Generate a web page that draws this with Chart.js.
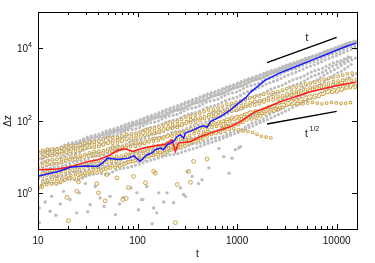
<!DOCTYPE html>
<html>
<head>
<meta charset="utf-8">
<script src="https://cdn.jsdelivr.net/npm/chart.js@4"></script>
<style>
  html, body { margin: 0; padding: 0; background: #fff; }
</style>
</head>
<body>
<canvas id="chart" width="375" height="263"></canvas>
<script>
// sample times (two staggered log grids)
const timesA = [10, 12.6, 15.8, 20, 25.1, 31.6, 39.8, 50.1, 63.1, 79.4, 100, 126, 158, 200, 251, 316, 398, 501, 631, 794, 1000, 1259, 1585, 1995, 2512, 3162, 3981, 5012, 6310, 7943, 10000, 12589, 15849];
const timesB = [11.2, 14.1, 17.8, 22.4, 28.2, 35.5, 44.7, 56.2, 70.8, 89.1, 112, 141, 178, 224, 282, 355, 447, 562, 708, 891, 1122, 1413, 1778, 2239, 2818, 3548, 4467, 5623, 7079, 8913, 11220, 14125];

// gray runs (filled dots)
const gray1 = [13, 15.5, 17, 23, 26, 35, 41, 53, 63, 82, 98, 128, 157, 208, 255, 335, 415, 540, 660, 860, 1060, 1390, 1700, 2180, 2660, 3450, 4200, 5350, 6600, 8500, 10500, 13400, 16600];
const gray2 = [9, 12, 13, 18, 20, 28, 32, 44, 51, 70, 81, 110, 130, 176, 208, 285, 340, 460, 555, 750, 920, 1240, 1520, 2030, 2500, 3300, 4100, 5300, 6500, 8400, 10300, 13100];
const gray3 = [6, 8, 8.6, 11.8, 12.8, 17.5, 19, 26.5, 29.5, 40, 45, 61, 69, 94, 108, 146, 170, 230, 272, 372, 445, 620, 760, 1040, 1290, 1760, 2200, 2960, 3680, 4950, 6200, 8300, 10400];
const gray4 = [5, 6.5, 6.6, 9.2, 9.5, 12.8, 13.8, 18.5, 20, 27.5, 30.5, 42, 48, 65, 75, 102, 119, 165, 193, 266, 318, 448, 540, 760, 925, 1310, 1590, 2230, 2720, 3780, 4620, 6400];
const gray5 = [3, 3.8, 3.8, 5, 5, 6.5, 6.6, 8.6, 9, 11.8, 12.3, 16, 17, 22.5, 24, 31.5, 34.5, 46, 53, 73, 87, 123, 154, 228, 300, 455, 620, 960, 1310, 2000, 2730, 4100, 5500];
const gray6 = [2.2, 2.8, 2.9, 3.8, 3.8, 4.9, 5, 6.4, 6.7, 8.6, 9.1, 11.8, 12.4, 16, 17.2, 22.5, 24, 32, 35.5, 49, 57, 85, 105, 164, 215, 350, 470, 770, 1040, 1680, 2320, 3600];
const gray7 = [8, 10.6, 11.4, 15.4, 17, 23.2, 25.6, 35, 39, 54, 60, 83, 94, 131, 148, 206, 236, 330, 382, 535, 620, 870, 1010, 1420, 1680, 2350, 2780, 3850, 4520, 6250, 7400, 10100, 12300];
const gray8 = [4, 5.1, 5.4, 7.2, 7.6, 10.2, 10.9, 14.8, 16.2, 21.7, 23.8, 31.8, 35.2, 47.5, 52.5, 72, 81, 113, 129, 182, 210, 300, 355, 515, 625, 915, 1120, 1660, 2070, 3100, 3900, 5800];
const gray9 = [12, 15.2, 16.8, 22, 25, 33.5, 37.5, 50, 57, 76, 87, 117, 135, 183, 214, 292, 342, 468, 555, 765, 910, 1250, 1510, 2070, 2500, 3420, 4120, 5620, 6800, 9250, 11200, 14900];
const gray10 = [1.5, 2, 1.7, 2.5, 2.2, 3, 3.5, 3.2, 4.5, 5, 6, 7.5, 9, 11, 12, 15, 18, 23, 28, 36, 46, 60, 80, 105, 140, 190, 260, 360, 500, 700, 1000, 1400, 2000];
const gray11 = [11, 13.8, 15.2, 20.5, 23, 31.5, 35.5, 48, 55, 74, 86, 117, 136, 188, 220, 302, 357, 490, 575, 785, 930, 1270, 1500, 2030, 2420, 3250, 3880, 5200, 6200, 8250, 9900, 13100, 15600];
const grayScatterT = [10.3, 11.8, 13.7, 13.2, 10.3, 18, 21, 26, 24.5, 31.6, 33.4, 42, 46, 53, 60, 66, 72, 86, 98.5, 102, 113, 140, 156, 183, 198, 230, 270, 303, 37.5, 30, 16.7, 15.1, 444, 410, 520, 830, 890, 960, 1040, 1080, 735, 655, 315, 353, 290, 163, 145, 124, 110];
const grayScatterV = [0.38, 0.56, 0.8, 0.31, 0.15, 1.1, 0.65, 1.0, 0.28, 0.3, 0.47, 0.72, 0.42, 0.8, 0.25, 0.49, 0.75, 1.37, 1.0, 0.34, 0.65, 0.14, 0.28, 0.56, 1.0, 0.53, 1.37, 0.8, 1.5, 1.8, 0.49, 0.24, 2.3, 1.8, 4.9, 3.5, 9.1, 15.5, 17.3, 19, 10, 17, 3.9, 2.85, 0.9, 1.0, 0.38, 1.5, 0.65];

// gold runs (open circles)
const goldA = [14, 16, 16.2, 20, 20, 25.5, 26, 33, 34, 42, 44.5, 58, 63, 84, 95, 126, 145, 193, 218, 285, 320, 415, 455, 570, 620, 765, 845, 1050, 1170, 1440, 1600, 1950, 2100];
const goldB = [12, 13.8, 13.8, 17, 17.2, 21.2, 22, 27.5, 28.8, 37, 39.5, 52, 56.5, 75, 82, 110, 120, 161, 176, 235, 255, 330, 355, 450, 480, 620, 665, 850, 915, 1170, 1270, 1610];
const goldC = [9, 10.6, 11, 13.8, 14.4, 18, 18.7, 23.3, 24, 30.5, 32.5, 42.5, 45, 59, 64.5, 85, 92, 123, 134, 178, 192, 254, 273, 355, 380, 490, 525, 675, 720, 930, 990, 1260, 1350];
const goldD = [7, 8.3, 8.4, 10.6, 11, 13.8, 14.4, 18, 18.7, 23.8, 25, 31.8, 33.5, 43.5, 46, 60.5, 65, 86, 93, 123, 134, 178, 191, 255, 272, 360, 382, 500, 525, 690, 725, 950];
const goldE = [5, 6.2, 6.4, 8.2, 8.4, 10.6, 11, 14, 14.4, 18.5, 19.6, 25.5, 27.2, 36, 38.2, 51, 55, 74, 81, 109, 119, 159, 171, 228, 243, 318, 333, 435, 456, 595, 615, 795, 820];
const goldF = [3.5, 4.3, 4.4, 5.7, 5.8, 7.5, 7.6, 9.9, 10.5, 13.8, 14.8, 19.6, 21, 28.5, 31.5, 42.5, 47.5, 66, 74, 104, 118, 170, 190, 255, 258, 305, 285, 320, 290, 318, 292, 315];
const goldG = [2.5, 3.2, 3.1, 4.1, 4.2, 5.4, 5.5, 7.2, 7.6, 10.1, 10.4, 13.8, 14.6, 19.6, 20.8, 28.8, 31, 44, 47, 66, 74, 104, 118, 168, 190, 265, 295, 400, 440, 595, 645, 870, 940];
const goldH = [2, 2.4, 2.5, 3.2, 3.3, 4.3, 4.4, 5.7, 5.9, 7.7, 8.1, 10.8, 11.4, 16, 18, 25.5, 29.5, 43, 47, 62, 52, 48, 36, 33];
const goldI = [1.3, 1.75, 1.8, 2.5, 2.55, 3.45, 3.6, 4.8, 5.1, 7, 7.6, 10.7, 11.8, 17, 19, 26.5, 30.5, 43, 49, 70, 81, 117, 133, 190, 214, 296, 328, 445, 485, 655, 715, 950, 1030];
const goldScatterT = [20.2, 19.5, 24.5, 40.5, 47.3, 71, 81, 120, 250, 240, 340, 500, 151, 325, 365, 77, 10.9, 15.4, 25.5, 39, 49, 62, 91, 145];
const goldScatterV = [0.17, 0.75, 1.1, 1.0, 0.6, 0.65, 1.4, 1.9, 1.7, 0.15, 1.95, 8.6, 3.5, 3.9, 7.4, 0.7, 1.5, 2.0, 2.0, 1.8, 3.2, 2.6, 2.85, 3.9];

// averages
const blueT = [10, 15.9, 21.5, 30, 40, 44, 50, 56, 64, 80, 92, 106, 124, 139, 151, 170, 182, 198, 229, 250, 270, 290, 302, 366, 412, 463, 500, 540, 680, 860, 1080, 1216, 1360, 1520, 1920, 2620, 3850, 5650, 8300, 12200, 15800];
const blueV = [2.85, 3.9, 5.2, 5.5, 5.45, 6.5, 9.1, 8.8, 8.4, 9.1, 10.6, 7.4, 11.3, 12.6, 15.5, 17.3, 15.5, 21.3, 26.2, 36, 40, 32.5, 44.7, 55, 65, 71, 65, 93, 128, 196, 332, 420, 600, 776, 1313, 2010, 3050, 4670, 7150, 10900, 14000];
const redT = [10, 15.9, 22, 32, 40, 51, 64, 75, 90, 114, 151, 190, 222, 240, 257, 340, 430, 540, 680, 860, 1080, 1360, 1520, 1920, 2720, 3850, 5460, 7700, 10900, 15800];
const redV = [4.36, 4.55, 5.4, 7.4, 8.2, 10.6, 15, 16.5, 13.9, 17.3, 20, 22, 29, 13.9, 23.7, 26.2, 36, 44.7, 55, 68, 93, 143, 176, 218, 332, 455, 625, 776, 957, 1170];

// guide lines
const guideT = [2000, 10000];
const guideLinear = [4000, 20000];
const guideSqrt = [80, 180];

const xMajor = [10, 100, 1000, 10000];
const xLabels = ['10', '100', '1000', '10000'];
const yMajor = [1, 100, 10000];
const yExp = ['0', '2', '4'];

const GRAY = '#bdbdbd';
const GOLD = '#c9a040';
const FONT = "'Liberation Sans', Arial, sans-serif";

function pts(ts, vs) {
    return vs.map((v, i) => ({ x: ts[i], y: v }));
}

const grayRuns = [[timesA, gray1], [timesB, gray2], [timesA, gray3], [timesB, gray4], [timesA, gray5],
    [timesB, gray6], [timesA, gray7], [timesB, gray8], [timesB, gray9], [timesA, gray10], [timesA, gray11]];
const goldRuns = [[timesA, goldA], [timesB, goldB], [timesA, goldC], [timesB, goldD], [timesA, goldE],
    [timesB, goldF], [timesA, goldG], [timesB, goldH], [timesA, goldI]];

// runs are sampled so densely that the markers form beaded chains
function beads(data, color, width, gap, order) {
    return {
        data: data, showLine: true, pointRadius: 0, borderColor: color, borderWidth: width,
        borderDash: [0, gap], borderCapStyle: 'round', order: order
    };
}

const datasets = [];
datasets.push({ data: pts(guideT, guideLinear), showLine: true, borderColor: '#000', borderWidth: 1.3, pointRadius: 0, order: 0 });
datasets.push({ data: pts(guideT, guideSqrt), showLine: true, borderColor: '#000', borderWidth: 1.3, pointRadius: 0, order: 0 });
datasets.push({ data: pts(blueT, blueV), showLine: true, borderColor: '#1a1aff', borderWidth: 1.5, pointRadius: 0, order: 1 });
datasets.push({ data: pts(redT, redV), showLine: true, borderColor: '#ff1a1a', borderWidth: 1.5, pointRadius: 0, order: 1 });
goldRuns.forEach(r => {
    datasets.push(beads(pts(r[0], r[1]), 'rgba(255,255,255,0.9)', 1.9, 4.8, 2));
    datasets.push(beads(pts(r[0], r[1]), GOLD, 3.7, 4.8, 2.5));
});
datasets.push({
    data: pts(goldScatterT, goldScatterV), pointRadius: 1.9, pointBorderWidth: 1,
    pointBorderColor: GOLD, pointBackgroundColor: 'rgba(0,0,0,0)', order: 2
});
grayRuns.forEach(r => datasets.push(beads(pts(r[0], r[1]), GRAY, 3.2, 4, 3)));
datasets.push({
    data: pts(grayScatterT, grayScatterV), pointRadius: 1.7, pointBorderWidth: 0,
    pointBackgroundColor: GRAY, pointBorderColor: GRAY, order: 3
});

const axesPlugin = {
    id: 'axesPlugin',
    afterDraw(chart) {
        const ctx = chart.ctx;
        const a = chart.chartArea;
        const xs = chart.scales.x, ys = chart.scales.y;
        ctx.save();
        ctx.strokeStyle = '#000';
        ctx.lineWidth = 1;
        ctx.strokeRect(Math.round(a.left) + 0.5, Math.round(a.top) + 0.5,
            Math.round(a.right - a.left), Math.round(a.bottom - a.top));

        ctx.beginPath();
        for (let d = 10; d <= 10000; d *= 10) {
            for (let m = 1; m <= 9; m++) {
                const v = d * m;
                if (v > xs.max) continue;
                const px = Math.round(xs.getPixelForValue(v)) + 0.5;
                const len = m === 1 ? 5 : 3;
                ctx.moveTo(px, a.bottom); ctx.lineTo(px, a.bottom - len);
                ctx.moveTo(px, a.top); ctx.lineTo(px, a.top + len);
            }
        }
        yMajor.forEach(v => {
            const py = Math.round(ys.getPixelForValue(v)) + 0.5;
            ctx.moveTo(a.left, py); ctx.lineTo(a.left + 5, py);
            ctx.moveTo(a.right, py); ctx.lineTo(a.right - 5, py);
        });
        ctx.stroke();

        ctx.fillStyle = '#111';
        ctx.font = '10px ' + FONT;
        ctx.textAlign = 'center';
        ctx.textBaseline = 'middle';
        xMajor.forEach((v, i) => ctx.fillText(xLabels[i], xs.getPixelForValue(v), a.bottom + 12));

        yMajor.forEach((v, i) => {
            const py = ys.getPixelForValue(v);
            ctx.font = '7px ' + FONT;
            const w2 = ctx.measureText(yExp[i]).width;
            ctx.textAlign = 'left';
            ctx.textBaseline = 'alphabetic';
            ctx.fillText(yExp[i], a.left - 6 - w2, py - 1);
            ctx.font = '10px ' + FONT;
            ctx.textAlign = 'right';
            ctx.fillText('10', a.left - 6 - w2, py + 4);
        });

        ctx.font = '10px ' + FONT;
        ctx.textAlign = 'center';
        ctx.textBaseline = 'middle';
        ctx.fillText('t', (a.left + a.right) / 2, 254);
        ctx.save();
        ctx.translate(8, 121);
        ctx.rotate(-Math.PI / 2);
        ctx.fillText('Δz', 0, 0);
        ctx.restore();

        ctx.fillText('t', 307, 38);
        ctx.textAlign = 'left';
        ctx.textBaseline = 'alphabetic';
        ctx.fillText('t', 305, 137);
        ctx.font = '7px ' + FONT;
        ctx.fillText('1/2', 309.5, 131);
        ctx.restore();
    }
};

new Chart(document.getElementById('chart'), {
    type: 'scatter',
    data: { datasets: datasets },
    options: {
        responsive: false,
        animation: false,
        devicePixelRatio: 1,
        layout: { padding: { left: 38, right: 18, top: 12, bottom: 34 } },
        plugins: { legend: { display: false }, tooltip: { enabled: false } },
        scales: {
            x: { type: 'logarithmic', min: 10, max: 16000, display: false },
            y: { type: 'logarithmic', min: 0.1, max: 100000, display: false }
        }
    },
    plugins: [axesPlugin]
});
</script>
</body>
</html>
